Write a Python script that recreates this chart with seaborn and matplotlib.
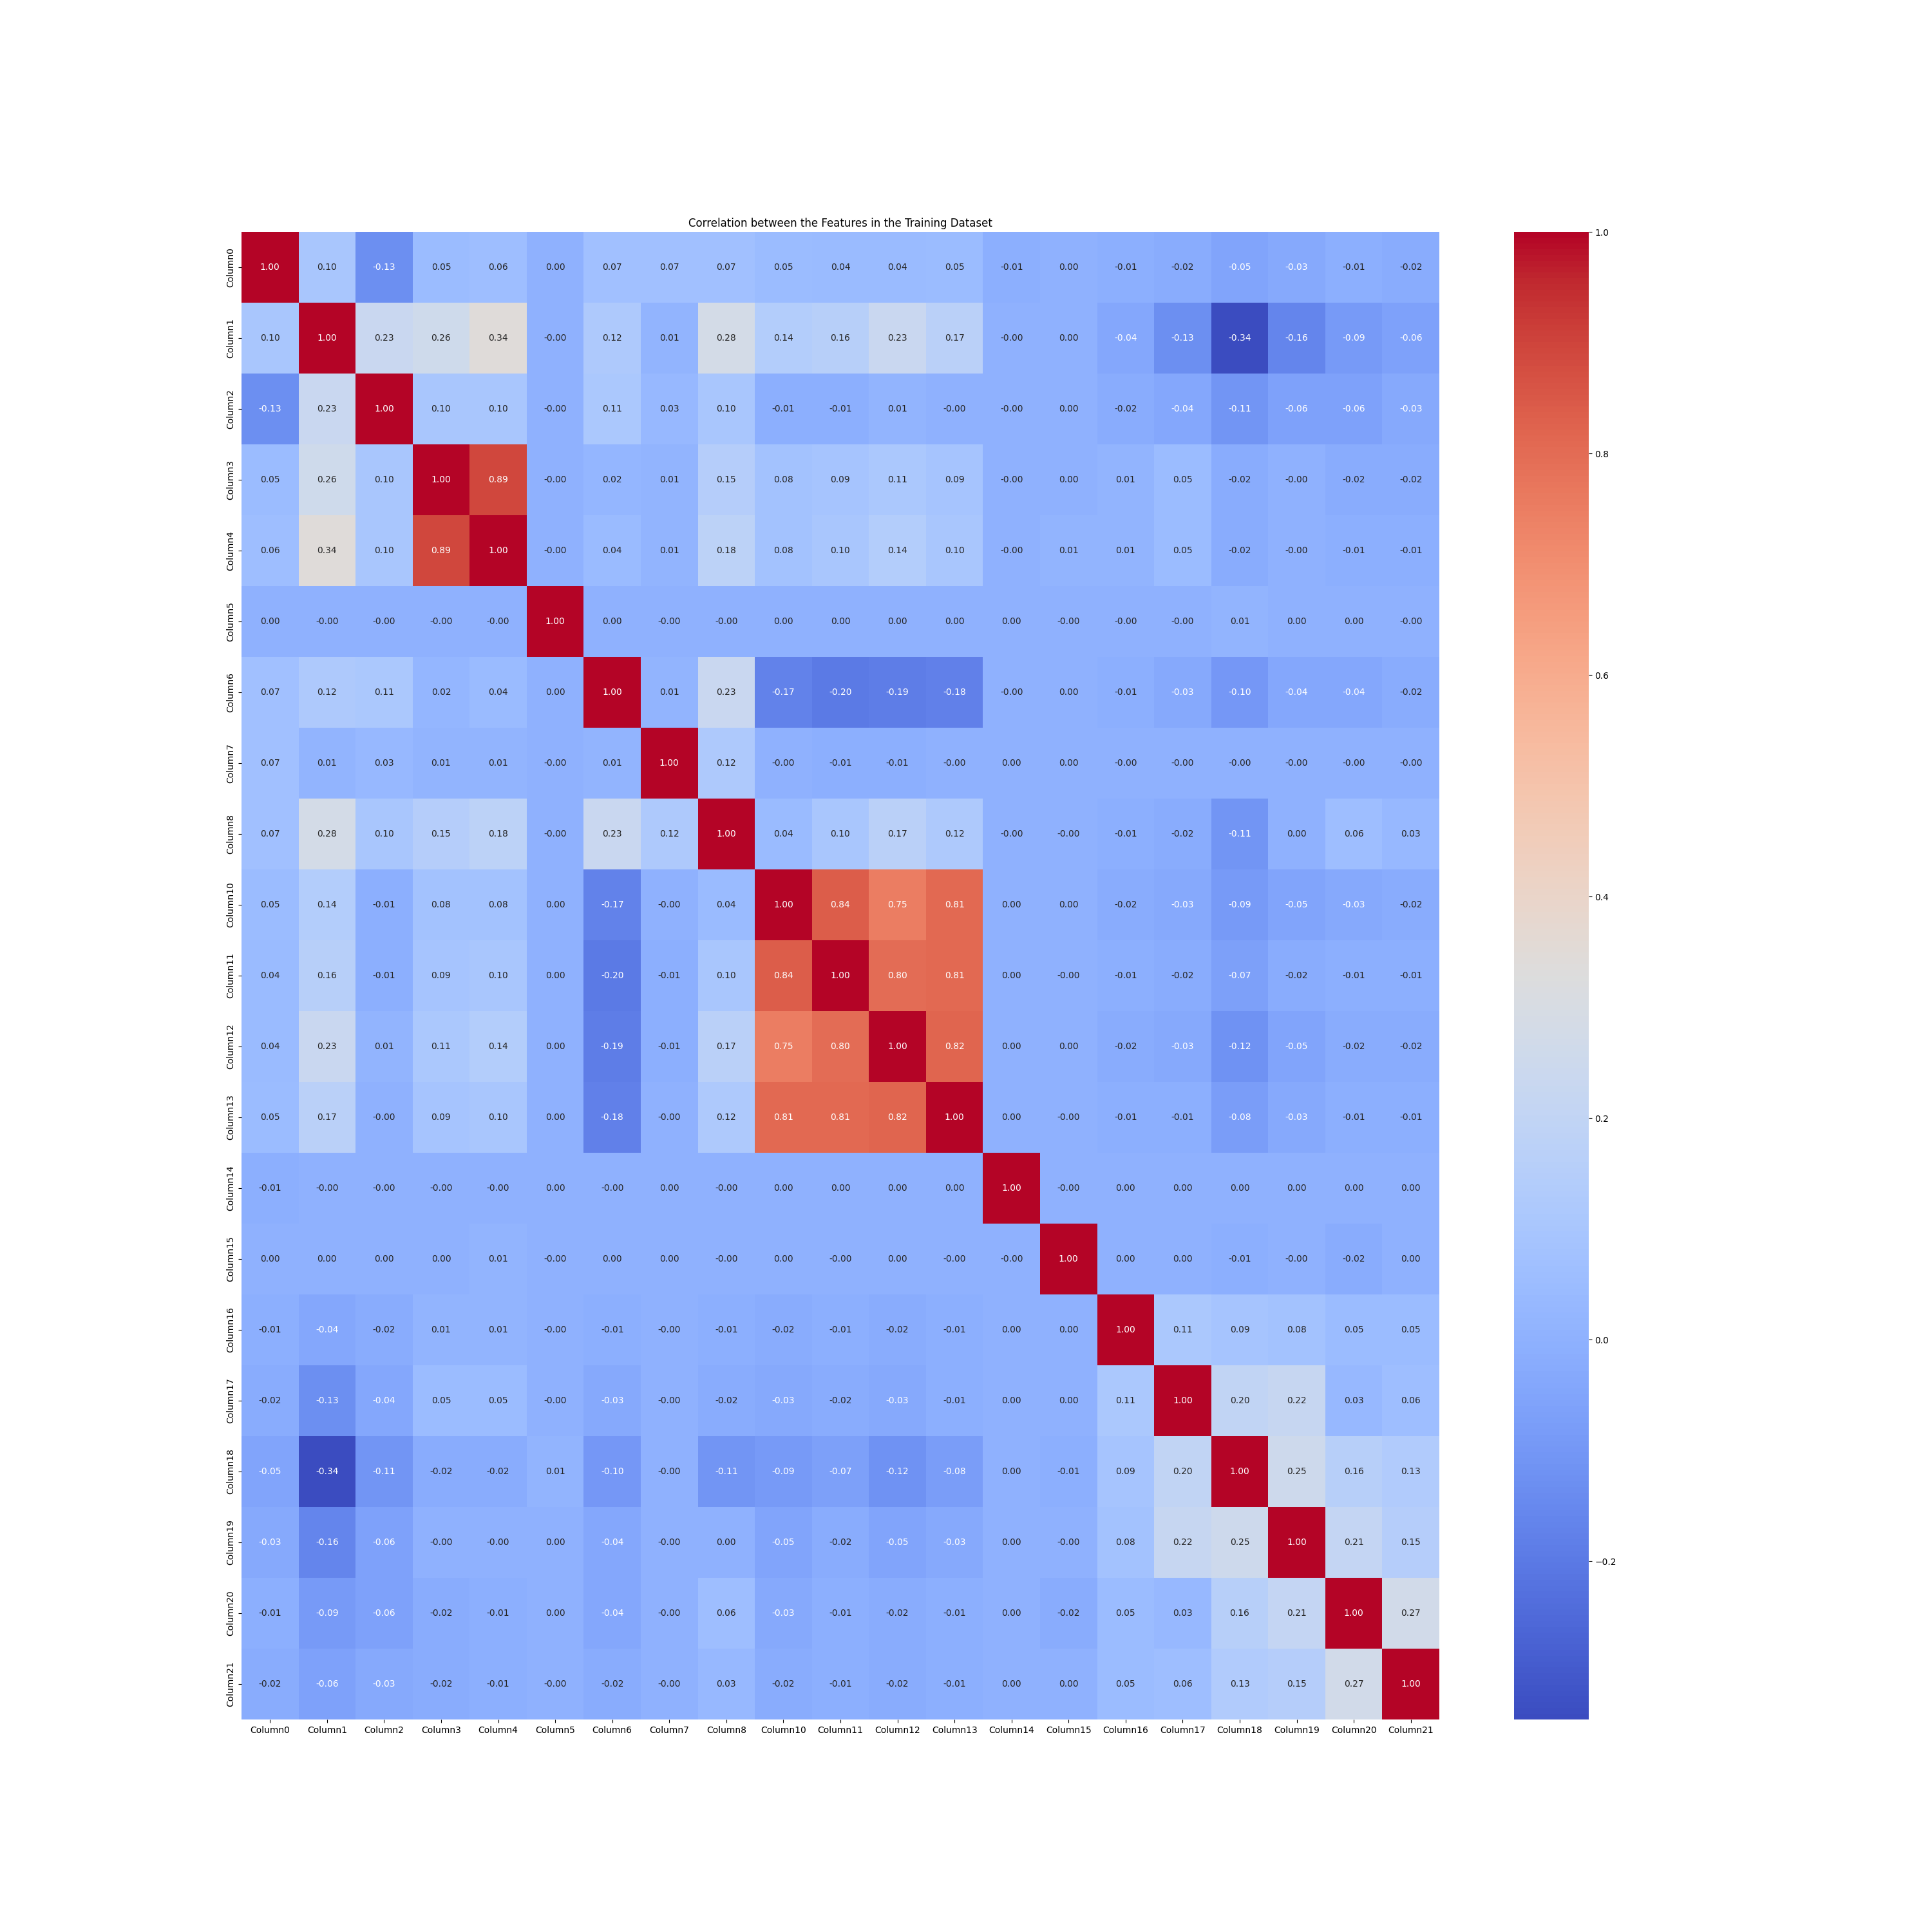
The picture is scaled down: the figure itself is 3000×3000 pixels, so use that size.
import matplotlib
matplotlib.use('Agg')
import matplotlib.pyplot as plt
import numpy as np
import pandas as pd
import seaborn as sns

# feature names (no Column9 in the dataset)
columns = ['Column0', 'Column1', 'Column2', 'Column3', 'Column4', 'Column5',
           'Column6', 'Column7', 'Column8', 'Column10', 'Column11', 'Column12',
           'Column13', 'Column14', 'Column15', 'Column16', 'Column17',
           'Column18', 'Column19', 'Column20', 'Column21']

# correlation rows (-0.0 keeps the "-0.00" labels)
r0 = [1.00, 0.10, -0.13, 0.05, 0.06, 0.00, 0.07, 0.07, 0.07, 0.05, 0.04, 0.04, 0.05, -0.01, 0.00, -0.01, -0.02, -0.05, -0.03, -0.01, -0.02]
r1 = [0.10, 1.00, 0.23, 0.26, 0.34, -0.0, 0.12, 0.01, 0.28, 0.14, 0.16, 0.23, 0.17, -0.0, 0.00, -0.04, -0.13, -0.343, -0.16, -0.09, -0.06]
r2 = [-0.13, 0.23, 1.00, 0.10, 0.10, -0.0, 0.11, 0.03, 0.10, -0.01, -0.01, 0.01, -0.0, -0.0, 0.00, -0.02, -0.04, -0.11, -0.06, -0.06, -0.03]
r3 = [0.05, 0.26, 0.10, 1.00, 0.89, -0.0, 0.02, 0.01, 0.15, 0.08, 0.09, 0.11, 0.09, -0.0, 0.00, 0.01, 0.05, -0.02, -0.0, -0.02, -0.02]
r4 = [0.06, 0.34, 0.10, 0.89, 1.00, -0.0, 0.04, 0.01, 0.18, 0.08, 0.10, 0.14, 0.10, -0.0, 0.01, 0.01, 0.05, -0.02, -0.0, -0.01, -0.01]
r5 = [0.00, -0.0, -0.0, -0.0, -0.0, 1.00, 0.00, -0.0, -0.0, 0.00, 0.00, 0.00, 0.00, 0.00, -0.0, -0.0, -0.0, 0.01, 0.00, 0.00, -0.0]
r6 = [0.07, 0.12, 0.11, 0.02, 0.04, 0.00, 1.00, 0.01, 0.23, -0.17, -0.20, -0.19, -0.18, -0.0, 0.00, -0.01, -0.03, -0.10, -0.04, -0.04, -0.02]
r7 = [0.07, 0.01, 0.03, 0.01, 0.01, -0.0, 0.01, 1.00, 0.12, -0.0, -0.01, -0.01, -0.0, 0.00, 0.00, -0.0, -0.0, -0.0, -0.0, -0.0, -0.0]
r8 = [0.07, 0.28, 0.10, 0.15, 0.18, -0.0, 0.23, 0.12, 1.00, 0.04, 0.10, 0.17, 0.12, -0.0, -0.0, -0.01, -0.02, -0.11, 0.00, 0.06, 0.03]
r10 = [0.05, 0.14, -0.01, 0.08, 0.08, 0.00, -0.17, -0.0, 0.04, 1.00, 0.84, 0.75, 0.81, 0.00, 0.00, -0.02, -0.03, -0.09, -0.05, -0.03, -0.02]
r11 = [0.04, 0.16, -0.01, 0.09, 0.10, 0.00, -0.20, -0.01, 0.10, 0.84, 1.00, 0.80, 0.81, 0.00, -0.0, -0.01, -0.02, -0.07, -0.02, -0.01, -0.01]
r12 = [0.04, 0.23, 0.01, 0.11, 0.14, 0.00, -0.19, -0.01, 0.17, 0.75, 0.80, 1.00, 0.82, 0.00, 0.00, -0.02, -0.03, -0.12, -0.05, -0.02, -0.02]
r13 = [0.05, 0.17, -0.0, 0.09, 0.10, 0.00, -0.18, -0.0, 0.12, 0.81, 0.81, 0.82, 1.00, 0.00, -0.0, -0.01, -0.01, -0.08, -0.03, -0.01, -0.01]
r14 = [-0.01, -0.0, -0.0, -0.0, -0.0, 0.00, -0.0, 0.00, -0.0, 0.00, 0.00, 0.00, 0.00, 1.00, -0.0, 0.00, 0.00, 0.00, 0.00, 0.00, 0.00]
r15 = [0.00, 0.00, 0.00, 0.00, 0.01, -0.0, 0.00, 0.00, -0.0, 0.00, -0.0, 0.00, -0.0, -0.0, 1.00, 0.00, 0.00, -0.01, -0.0, -0.02, 0.00]
r16 = [-0.01, -0.04, -0.02, 0.01, 0.01, -0.0, -0.01, -0.0, -0.01, -0.02, -0.01, -0.02, -0.01, 0.00, 0.00, 1.00, 0.11, 0.09, 0.08, 0.05, 0.05]
r17 = [-0.02, -0.13, -0.04, 0.05, 0.05, -0.0, -0.03, -0.0, -0.02, -0.03, -0.02, -0.03, -0.01, 0.00, 0.00, 0.11, 1.00, 0.20, 0.22, 0.03, 0.06]
r18 = [-0.05, -0.343, -0.11, -0.02, -0.02, 0.01, -0.10, -0.0, -0.11, -0.09, -0.07, -0.12, -0.08, 0.00, -0.01, 0.09, 0.20, 1.00, 0.25, 0.16, 0.13]
r19 = [-0.03, -0.16, -0.06, -0.0, -0.0, 0.00, -0.04, -0.0, 0.00, -0.05, -0.02, -0.05, -0.03, 0.00, -0.0, 0.08, 0.22, 0.25, 1.00, 0.21, 0.15]
r20 = [-0.01, -0.09, -0.06, -0.02, -0.01, 0.00, -0.04, -0.0, 0.06, -0.03, -0.01, -0.02, -0.01, 0.00, -0.02, 0.05, 0.03, 0.16, 0.21, 1.00, 0.27]
r21 = [-0.02, -0.06, -0.03, -0.02, -0.01, -0.0, -0.02, -0.0, 0.03, -0.02, -0.01, -0.02, -0.01, 0.00, 0.00, 0.05, 0.06, 0.13, 0.15, 0.27, 1.00]

rows = [r0, r1, r2, r3, r4, r5, r6, r7, r8, r10, r11, r12, r13,
        r14, r15, r16, r17, r18, r19, r20, r21]
corr = pd.DataFrame(np.array(rows), index=columns, columns=columns)

plt.figure(figsize=(30, 30))
sns.heatmap(corr, annot=True, fmt='.2f', cmap='coolwarm')
plt.title('Correlation between the Features in the Training Dataset')
plt.savefig('out.png', dpi=100)
